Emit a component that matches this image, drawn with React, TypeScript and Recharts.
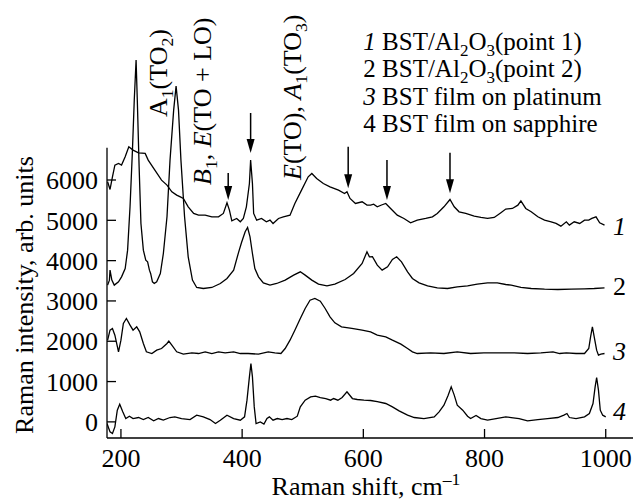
import React from 'react';
import { LineChart, Line, XAxis, YAxis, ReferenceLine, ReferenceDot } from 'recharts';

const FONT = '"Liberation Serif", "Times New Roman", Times, serif';

const xTicks = [200, 400, 600, 800, 1000];
const yTicks = [0, 1000, 2000, 3000, 4000, 5000, 6000];
const xDomain: [number, number] = [177, 1045];
const yDomain: [number, number] = [-400, 9200];
const yAxisSpan = [-400, 6800];

// [Raman shift, intensity]
const spectrum1: [number, number][] = [
  [178, 5955], [182, 5765], [186, 6079], [190, 6369], [196, 6410], [201, 6369], [207, 6575], [213, 6824],
  [220, 6741], [229, 6675], [240, 6658], [245, 6493], [256, 6245], [267, 5997], [276, 5873], [284, 5707],
  [292, 5625], [298, 5583], [303, 5542], [311, 5335], [320, 5170], [328, 5128], [339, 5128], [350, 5087],
  [361, 5087], [369, 5170], [375, 5434], [379, 5252], [383, 4988], [391, 5046], [397, 4963], [402, 5046],
  [407, 5335], [412, 5914], [414, 6493], [417, 5914], [419, 5170], [424, 5004], [432, 5046], [440, 4963],
  [446, 5004], [451, 4922], [460, 5046], [468, 5087], [479, 5128], [487, 5418], [498, 5748], [509, 6079],
  [515, 6162], [523, 6038], [534, 5914], [545, 5831], [559, 5748], [569, 5666], [573, 5707], [578, 5542],
  [587, 5418], [598, 5459], [606, 5376], [612, 5376], [617, 5400], [623, 5335], [630, 5380], [637, 5418],
  [645, 5294], [656, 5128], [667, 5046], [678, 4938], [689, 5004], [703, 5046], [714, 5087], [722, 5170],
  [733, 5335], [743, 5517], [750, 5335], [758, 5211], [769, 5170], [783, 5103], [794, 5071], [805, 5046],
  [816, 5071], [827, 5190], [835, 5280], [846, 5294], [855, 5376], [860, 5484], [868, 5294], [877, 5211],
  [888, 5087], [899, 5004], [910, 4963], [918, 4922], [926, 4855], [935, 4963], [940, 4880], [948, 4963],
  [957, 4922], [965, 5004], [972, 5004], [977, 5046], [984, 5087], [990, 4938], [998, 4880],
];

const spectrum2: [number, number][] = [
  [178, 3392], [181, 3516], [182, 3764], [185, 3516], [189, 3392], [196, 3474], [201, 3598], [207, 3805],
  [211, 4260], [215, 5335], [219, 6741], [222, 7982], [225, 8974], [227, 7982], [230, 6328], [233, 4922],
  [237, 4260], [241, 4012], [244, 3971], [247, 3764], [249, 3681], [252, 3474], [255, 3433], [259, 3474],
  [265, 3681], [270, 4177], [276, 5087], [281, 6493], [287, 7733], [291, 8329], [295, 7733], [299, 6493],
  [305, 5087], [311, 4095], [318, 3516], [325, 3334], [336, 3309], [350, 3334], [364, 3433], [375, 3557],
  [386, 3764], [394, 4200], [399, 4450], [405, 4715], [409, 4822], [413, 4591], [417, 4177], [421, 3805],
  [427, 3598], [435, 3449], [446, 3392], [457, 3433], [471, 3516], [485, 3640], [496, 3722], [504, 3640],
  [515, 3516], [526, 3416], [540, 3375], [553, 3416], [570, 3532], [584, 3681], [598, 3929], [606, 4219],
  [610, 4095], [615, 4100], [623, 3888], [631, 3764], [640, 3847], [648, 4028], [655, 4095], [663, 3971],
  [673, 3722], [681, 3557], [692, 3449], [706, 3375], [722, 3325], [739, 3309], [755, 3350], [772, 3375],
  [788, 3416], [805, 3449], [821, 3449], [835, 3408], [844, 3392], [860, 3334], [877, 3309], [899, 3292],
  [921, 3284], [943, 3292], [965, 3301], [981, 3309], [998, 3325],
];

const spectrum3: [number, number][] = [
  [178, 2027], [182, 2275], [186, 2317], [190, 2151], [196, 1738], [200, 2027], [204, 2441], [209, 2565],
  [215, 2399], [220, 2275], [226, 2358], [231, 2234], [237, 1944], [242, 1738], [251, 1696], [259, 1779],
  [267, 1820], [276, 1944], [279, 2002], [284, 1903], [292, 1738], [303, 1680], [317, 1713], [328, 1696],
  [339, 1738], [350, 1696], [361, 1738], [372, 1713], [386, 1738], [397, 1696], [410, 1696], [427, 1680],
  [443, 1738], [454, 1713], [464, 1696], [471, 1820], [479, 2027], [487, 2275], [496, 2565], [504, 2813],
  [512, 3019], [520, 3061], [529, 2995], [537, 2813], [545, 2606], [553, 2457], [564, 2358], [581, 2317],
  [598, 2275], [612, 2234], [623, 2151], [637, 2110], [648, 2027], [662, 1928], [673, 1820], [681, 1738],
  [689, 1696], [711, 1713], [733, 1696], [755, 1738], [777, 1696], [799, 1713], [821, 1713], [849, 1713],
  [871, 1696], [893, 1713], [913, 1738], [924, 1696], [935, 1713], [951, 1696], [965, 1696], [972, 1820],
  [975, 2110], [978, 2358], [981, 2110], [985, 1779], [988, 1655], [992, 1680], [998, 1696],
];

const spectrum4: [number, number][] = [
  [177, -41], [182, -248], [186, -289], [190, -124], [194, 290], [198, 439], [203, 249], [208, 83],
  [214, 141], [220, 83], [229, 108], [237, 58], [245, 108], [254, 25], [262, 83], [270, 42], [281, 108],
  [289, 124], [300, 83], [314, 58], [325, 166], [336, 124], [347, 58], [356, -41], [364, 42], [375, 166],
  [386, 83], [397, 42], [404, 124], [408, 538], [412, 1117], [414.5, 1448], [417, 1117], [420, 372],
  [423, -41], [430, 0], [436, -57], [441, 83], [445, 124], [451, 42], [458, 83], [466, 58], [474, 83],
  [482, 58], [491, 141], [496, 373], [504, 538], [513, 621], [521, 637], [529, 604], [538, 579], [546, 538],
  [551, 579], [558, 538], [565, 604], [573, 745], [582, 579], [590, 555], [601, 538], [612, 530], [623, 500],
  [637, 456], [648, 373], [659, 274], [673, 166], [684, 108], [700, 83], [717, 125], [725, 249], [733, 414],
  [740, 663], [745, 869], [750, 663], [755, 414], [764, 290], [772, 141], [777, 83], [786, 158], [794, 83],
  [805, 42], [819, 83], [835, 125], [844, 108], [857, 83], [871, 25], [888, 58], [904, 83], [921, 108],
  [931, 166], [936, 207], [940, 108], [951, 83], [965, 125], [973, 207], [979, 456], [982.5, 869],
  [985, 1101], [988, 787], [991, 290], [995, 166], [1000, 125],
];

const spectra = [spectrum1, spectrum2, spectrum3, spectrum4];

// arrows marking modes: position, top of shaft, tip
const arrowShifts = [377, 414, 575, 639, 743];
const arrowTops = [6174, 7662, 6826, 6496, 6677];
const arrowTips = [5504, 6670, 5794, 5504, 5670];

// rotated mode labels: text ('*' toggles italic, '_' subscript next char)
const modeLabels = ['A_1(TO_2)', '*B*_1, *E*(TO + LO)', '*E*(TO), *A*_1(TO_3)'];
const modeLabelX = [276, 348.6, 497];
const modeLabelY = [7563, 5876, 6000];

const legendLines = ['*1* BST/Al_2O_3(point 1)', '2 BST/Al_2O_3(point 2)', '*3* BST film on platinum', '4 BST film on sapphire'];
const legendX = 600;
const legendY = [9225, 8567, 7860, 7203];

const curveNumbers = ['*1*', '2', '*3*', '*4*'];
const curveNumberX = 1012;
const curveNumberY = [4636, 3147, 1535, 46];

const xTitle = 'Raman shift, cm^–1^';
const yTitle = 'Raman intensity, arb. units';

function rich(s: string, size: number) {
  const out: React.ReactNode[] = [];
  let cur = 0;
  let italic = false;
  let key = 0;
  let buf = '';
  const push = (text: string, off: number, small: boolean) => {
    if (!text) return;
    out.push(
      <tspan key={key++} dy={off - cur} fontSize={small ? size * 0.68 : size} fontStyle={italic ? 'italic' : 'normal'}>
        {text}
      </tspan>
    );
    cur = off;
  };
  for (let i = 0; i < s.length; i++) {
    const c = s[i];
    if (c === '*') {
      push(buf, 0, false);
      buf = '';
      italic = !italic;
    } else if (c === '_') {
      push(buf, 0, false);
      buf = '';
      push(s[i + 1], size * 0.25, true);
      i++;
    } else if (c === '^') {
      push(buf, 0, false);
      buf = '';
      const j = s.indexOf('^', i + 1);
      push(s.slice(i + 1, j), -size * 0.4, true);
      i = j;
    } else {
      buf += c;
    }
  }
  push(buf, 0, false);
  return out;
}

const makeTextShape = (content: string, rotate: boolean, size = 26) => (p: any) => {
  const { cx, cy } = p;
  return (
    <text
      x={cx}
      y={cy}
      textAnchor="start"
      fontFamily={FONT}
      fontSize={size}
      fill="#000"
      transform={rotate ? `rotate(-90 ${cx} ${cy})` : undefined}
    >
      {rich(content, size)}
    </text>
  );
};

const ArrowShape = (p: any) => {
  const { x1, y1, y2 } = p;
  const top = Math.min(y1, y2);
  const tip = Math.max(y1, y2);
  const head = 14;
  const hw = 4;
  return (
    <g>
      <line x1={x1} y1={top} x2={x1} y2={tip - head + 2} stroke="#000" strokeWidth={1.5} />
      <polygon points={`${x1 - hw},${tip - head} ${x1 + hw},${tip - head} ${x1},${tip}`} fill="#000" />
    </g>
  );
};

const XTitle = (p: any) => {
  const vb = p.viewBox || { x: 107, y: 438, width: 526, height: 62 };
  return (
    <text x={vb.x + vb.width / 2 - 4} y={vb.y + 57} textAnchor="middle" fontFamily={FONT} fontSize={26} fill="#000">
      {rich(xTitle, 26)}
    </text>
  );
};

const YTitle = (p: any) => {
  const vb = p.viewBox || { x: 0, y: 51, width: 107, height: 387 };
  const cx = vb.x + 33;
  const cy = vb.y + 244;
  return (
    <text x={cx} y={cy} textAnchor="middle" fontFamily={FONT} fontSize={26} fill="#000" transform={`rotate(-90 ${cx} ${cy})`}>
      {yTitle}
    </text>
  );
};

export default function App() {
  const tickStyle = { fill: '#000', fontSize: 26, fontFamily: FONT };
  return (
    <div style={{ position: 'absolute', left: 0, top: 0, width: 640, height: 500, background: '#fff' }}>
      <LineChart width={640} height={500} margin={{ top: 51, right: 7, bottom: 0, left: 0 }} style={{ fontFamily: FONT }}>
        <XAxis
          type="number"
          dataKey="x"
          domain={xDomain}
          ticks={xTicks}
          allowDataOverflow
          height={62}
          tickSize={-9}
          tickMargin={20}
          tick={tickStyle}
          axisLine={{ stroke: '#000', strokeWidth: 1.3 }}
          tickLine={{ stroke: '#000', strokeWidth: 1.3 }}
          label={<XTitle />}
        />
        <YAxis
          type="number"
          domain={yDomain}
          ticks={yTicks}
          allowDataOverflow
          width={107}
          tickSize={-9}
          tickMargin={18}
          tick={tickStyle}
          axisLine={false}
          tickLine={{ stroke: '#000', strokeWidth: 1.3 }}
          label={<YTitle />}
        />
        <ReferenceLine
          segment={[{ x: xDomain[0], y: yAxisSpan[0] }, { x: xDomain[0], y: yAxisSpan[1] }]}
          stroke="#000"
          strokeWidth={1.3}
          ifOverflow="visible"
        />
        {spectra.map((s, i) => (
          <Line
            key={i}
            data={s.map(([x, y]) => ({ x, y }))}
            dataKey="y"
            type="linear"
            stroke="#000"
            strokeWidth={1.3}
            dot={false}
            activeDot={false}
            isAnimationActive={false}
          />
        ))}
        {arrowShifts.map((x, i) => (
          <ReferenceLine
            key={'a' + i}
            segment={[{ x, y: arrowTops[i] }, { x, y: arrowTips[i] }]}
            ifOverflow="visible"
            shape={ArrowShape}
          />
        ))}
        {modeLabels.map((t, i) => (
          <ReferenceDot key={'m' + i} x={modeLabelX[i]} y={modeLabelY[i]} r={0} ifOverflow="visible" shape={makeTextShape(t, true)} />
        ))}
        {legendLines.map((t, i) => (
          <ReferenceDot key={'l' + i} x={legendX} y={legendY[i]} r={0} ifOverflow="visible" shape={makeTextShape(t, false, 25)} />
        ))}
        {curveNumbers.map((t, i) => (
          <ReferenceDot key={'c' + i} x={curveNumberX} y={curveNumberY[i]} r={0} ifOverflow="visible" shape={makeTextShape(t, false)} />
        ))}
      </LineChart>
    </div>
  );
}
